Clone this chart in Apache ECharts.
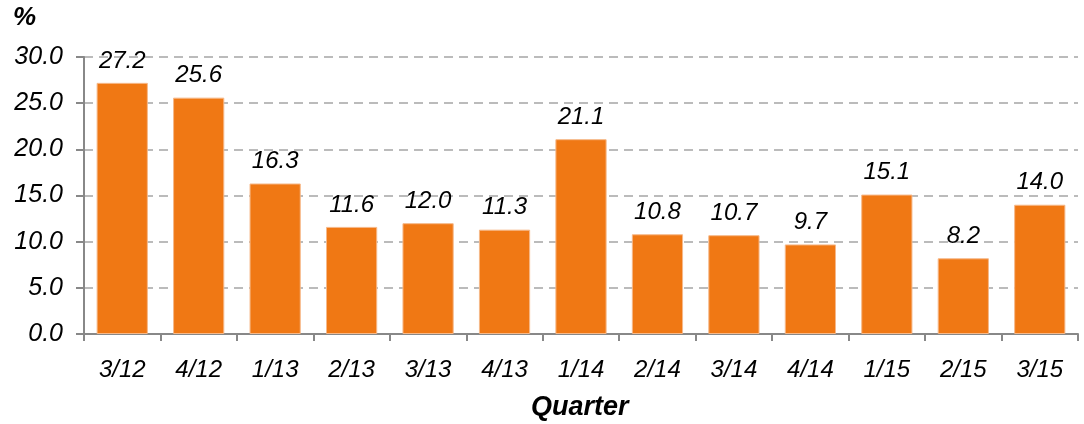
<!DOCTYPE html>
<html><head><meta charset="utf-8">
<script src="https://cdn.jsdelivr.net/npm/echarts@6/dist/echarts.min.js"></script>
<style>html,body{margin:0;padding:0;background:#fff}#c{width:1084px;height:424px}</style>
</head><body><div id="c"></div>
<script>
var categories = ['3/12','4/12','1/13','2/13','3/13','4/13','1/14','2/14','3/14','4/14','1/15','2/15','3/15'];
var values = [27.2,25.6,16.3,11.6,12.0,11.3,21.1,10.8,10.7,9.7,15.1,8.2,14.0];
var chart = echarts.init(document.getElementById('c'));
var font = 'Liberation Sans';
chart.setOption({
  animation:false,
  grid:{left:84,right:6,top:57,bottom:90,containLabel:false},
  graphic:[
    {type:'text',left:13,top:5,style:{text:'%',font:'bold italic 26px Liberation Sans',fill:'#000'}},
    {type:'text',left:531,top:394,style:{text:'Quarter',font:'bold italic 27px Liberation Sans',fill:'#000'}}
  ],
  xAxis:{type:'category',data:categories,
    axisLine:{lineStyle:{color:'#888',width:2}},
    axisTick:{show:true,length:7,lineStyle:{color:'#888',width:2}},
    axisLabel:{fontFamily:font,fontStyle:'italic',fontSize:24,color:'#000',margin:24}
  },
  yAxis:{type:'value',min:0,max:30,interval:5,
    axisLine:{show:true,lineStyle:{color:'#888',width:2}},
    axisTick:{show:true,length:8,lineStyle:{color:'#888',width:2}},
    splitLine:{lineStyle:{color:'#bbb',width:2,type:[9,6]}},
    axisLabel:{fontFamily:font,fontStyle:'italic',fontSize:25,color:'#000',margin:21,
      formatter:function(v){return v.toFixed(1);}}
  },
  series:[{type:'bar',data:values,barCategoryGap:'33%',
    itemStyle:{color:'#F07814',borderColor:'#F6B98A',borderWidth:1},
    label:{show:true,position:'top',distance:10,fontFamily:font,fontStyle:'italic',fontSize:24,color:'#000',
      formatter:function(p){return p.value.toFixed(1);}}
  }]
});
</script></body></html>
